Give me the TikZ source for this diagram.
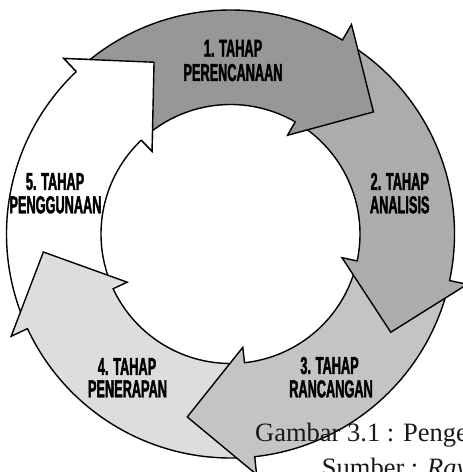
\documentclass[tikz,border=0pt]{standalone}
\usepackage{fontspec}
\setmainfont{Liberation Serif}
\newfontfamily\condfont[FakeStretch=0.52,FakeBold=1.6]{Liberation Sans Bold}
\definecolor{gA}{RGB}{152,151,149}
\definecolor{gB}{RGB}{172,172,172}
\definecolor{gC}{RGB}{196,196,196}
\definecolor{gD}{RGB}{221,221,221}
\tikzset{
  ring/.style={draw=black, line width=1.4pt, line join=miter},
  lab/.style={font=\condfont\fontsize{24.5}{24}\selectfont, text=black, inner sep=0pt, anchor=base},
  captxt/.style={font=\fontsize{26.5}{30}\selectfont, text=black!90, inner sep=0pt, anchor=base west}
}
% tail angle, base angle, colour
\newcommand\cyclearrow[3]{%
  \path[ring, fill=#3] (#1:129.5) -- (#1:224)
    arc[start angle=#1, end angle=#2, radius=224pt]
    -- (#2:242) -- ({#2-19.5}:188) -- (#2:114) -- (#2:129.5)
    arc[start angle=#2, end angle=#1, radius=129.5pt] -- cycle;}
\begin{document}
\begin{tikzpicture}[x=1pt,y=1pt]
\useasboundingbox (0,0) rectangle (463,472);
\fill[white] (0,0) rectangle (463,472);
\clip (0,0) rectangle (463,472);
\begin{scope}[shift={(230.5,238)}]
  \cyclearrow{-158}{-226.5}{white}
  \cyclearrow{-86.8}{-155}{gD}
  \cyclearrow{-15}{-83.8}{gC}
  \cyclearrow{57}{-12}{gB}
  \cyclearrow{130.5}{60}{gA}
  % head of arrow 5 lies over the tail of arrow 1
  \fill[white] (133.5:242) -- (114:188) -- (133.5:114) -- cycle;
  \draw[ring] (133.5:224) -- (133.5:242) -- (114:188) -- (133.5:114) -- (133.5:129.5);
\end{scope}
\node[lab] (t1a) at (233,415.3) {1. TAHAP};
\node[lab] (t1b) at (233,391) {PERENCANAAN};
\node[lab] (t2a) at (399.7,282) {2. TAHAP};
\node[lab] (t2b) at (399.7,258.7) {ANALISIS};
\node[lab] (t3a) at (329.5,98) {3. TAHAP};
\node[lab] (t3b) at (331,74.7) {RANCANGAN};
\node[lab] (t4a) at (127,97) {4. TAHAP};
\node[lab] (t4b) at (127.5,74.7) {PENERAPAN};
\node[lab] (t5a) at (55,282) {5. TAHAP};
\node[lab] (t5b) at (55.5,258.7) {PENGGUNAAN};
\node[captxt] (c1) at (255,30.3) {Gambar 3.1 : Penge};
\node[captxt] (c2) at (321.7,-4.5) {Sumber : \textit{Ray}};
\end{tikzpicture}
\end{document}
